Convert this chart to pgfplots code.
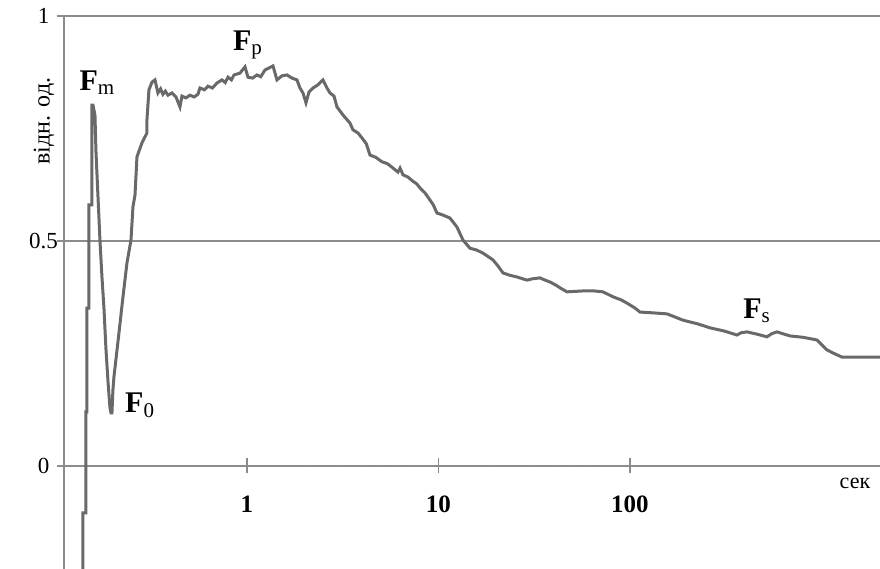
\documentclass[border=0pt]{standalone}
\usepackage{fontspec}
\setmainfont{Liberation Serif}
\usepackage{pgfplots}
\pgfplotsset{compat=1.18}

\definecolor{curve}{RGB}{105,105,105}
\definecolor{axisgray}{RGB}{140,140,140}

% relaxation curve, relative units vs time (s)
\pgfplotstableread{
x y
0.1392 -0.242
0.1392 -0.104
0.1443 -0.104
0.1443 0.120
0.1461 0.120
0.1461 0.351
0.1496 0.351
0.1496 0.580
0.1551 0.580
0.1551 0.802
0.1570 0.802
0.1608 0.780
0.1627 0.700
0.1667 0.600
0.1708 0.500
0.1749 0.420
0.1792 0.350
0.1835 0.260
0.1879 0.190
0.1925 0.130
0.1949 0.118
0.1972 0.118
0.1996 0.169
0.2020 0.198
0.2146 0.296
0.2252 0.376
0.2362 0.451
0.2479 0.502
0.2539 0.576
0.2602 0.602
0.2664 0.687
0.2829 0.718
0.3004 0.740
0.3004 0.769
0.3078 0.836
0.3191 0.853
0.3308 0.858
0.3429 0.829
0.3540 0.838
0.3640 0.826
0.3750 0.833
0.3869 0.824
0.4059 0.829
0.4258 0.820
0.4467 0.798
0.4576 0.822
0.4800 0.818
0.5040 0.824
0.5300 0.820
0.5546 0.826
0.5681 0.840
0.6000 0.836
0.6255 0.844
0.6600 0.840
0.6972 0.851
0.7403 0.858
0.7700 0.852
0.7961 0.864
0.8300 0.858
0.8553 0.869
0.9192 0.873
0.9763 0.887
1.012 0.864
1.070 0.862
1.128 0.869
1.180 0.865
1.242 0.880
1.367 0.889
1.434 0.858
1.523 0.867
1.618 0.869
1.718 0.862
1.824 0.858
1.891 0.840
1.961 0.829
2.033 0.807
2.108 0.831
2.212 0.840
2.349 0.847
2.494 0.858
2.617 0.840
2.713 0.829
2.847 0.822
2.951 0.798
3.172 0.780
3.451 0.762
3.577 0.747
3.800 0.740
3.986 0.729
4.200 0.716
4.388 0.691
4.700 0.686
5.070 0.676
5.400 0.672
5.717 0.664
6.146 0.653
6.300 0.662
6.526 0.647
6.929 0.642
7.200 0.636
7.450 0.631
7.700 0.627
8.004 0.618
8.500 0.607
9.029 0.591
9.400 0.580
9.822 0.562
10.50 0.558
11.48 0.551
12.49 0.531
13.43 0.502
14.60 0.484
15.80 0.480
17.08 0.473
19.26 0.458
20.50 0.444
21.72 0.429
23.50 0.424
25.70 0.420
28.98 0.413
31.00 0.416
33.88 0.418
36.00 0.413
38.21 0.409
41.00 0.402
43.11 0.396
46.88 0.387
56.84 0.389
65.00 0.389
72.28 0.387
81.52 0.376
90.00 0.369
96.45 0.362
106.2 0.351
112.8 0.342
135.0 0.340
156.1 0.338
172.0 0.331
189.2 0.324
225.0 0.316
261.7 0.307
310.0 0.300
362.1 0.291
380.0 0.296
408.3 0.298
460.0 0.293
519.3 0.287
550.0 0.294
585.6 0.298
684.7 0.289
800.0 0.286
947.3 0.280
1000 0.270
1068 0.258
1150 0.251
1279 0.242
2021 0.242
}\curvedata

\begin{document}
\begin{tikzpicture}
\begin{axis}[
    scale only axis,
    width=816pt,
    height=553pt,
    xmode=log,
    xmin=0.1108, xmax=2021,
    ymin=-0.2289, ymax=1,
    axis x line=middle,
    axis y line=left,
    axis line style={axisgray, line width=1.6pt, -},
    xtick={1,10,100},
    xticklabels={1,10,100},
    minor xtick={},
    ytick={0,0.5,1},
    yticklabels={0,0.5,1},
    tick align=center,
    major tick length=15pt,
    tick style={axisgray, line width=1.4pt},
    ymajorgrids=true,
    grid style={axisgray, line width=1.6pt},
    /pgf/number format/assume math mode=true,
    xticklabel style={font=\bfseries\fontsize{25}{25}\selectfont, anchor=center, inner sep=0pt, yshift=-31pt},
    yticklabel style={font=\fontsize{23}{23}\selectfont, anchor=center, inner sep=0pt, xshift=-13pt},
    clip=true,
]
\addplot[sharp plot, color=curve, line width=3pt, line join=miter] table[x=x, y=y] {\curvedata};

\coordinate (sw) at (rel axis cs:0,0);
\coordinate (ne) at (rel axis cs:1,1);
\coordinate (yl) at (rel axis cs:0,0.81);

\node[font=\fontsize{30}{30}\selectfont] at (axis cs:0.165,0.852) {\textbf{F}\textsubscript{\fontsize{21}{21}\selectfont m}};
\node[font=\fontsize{30}{30}\selectfont] at (axis cs:1.01,0.935) {\textbf{F}\textsubscript{\fontsize{21}{21}\selectfont p}};
\node[font=\fontsize{30}{30}\selectfont] at (axis cs:0.276,0.135) {\textbf{F}\textsubscript{\fontsize{21}{21}\selectfont 0}};
\node[font=\fontsize{30}{30}\selectfont] at (axis cs:460,0.345) {\textbf{F}\textsubscript{\fontsize{21}{21}\selectfont s}};
\node[font=\fontsize{22}{22}\selectfont] at (axis cs:1496,-0.038) {сек};
\end{axis}
\node[font=\fontsize{24}{24}\selectfont, rotate=90] at ([xshift=-20pt]yl) {відн. од.};
\pgfresetboundingbox
\path[use as bounding box] ([xshift=-64pt]sw) rectangle ([yshift=16pt]ne);
\end{tikzpicture}
\end{document}
